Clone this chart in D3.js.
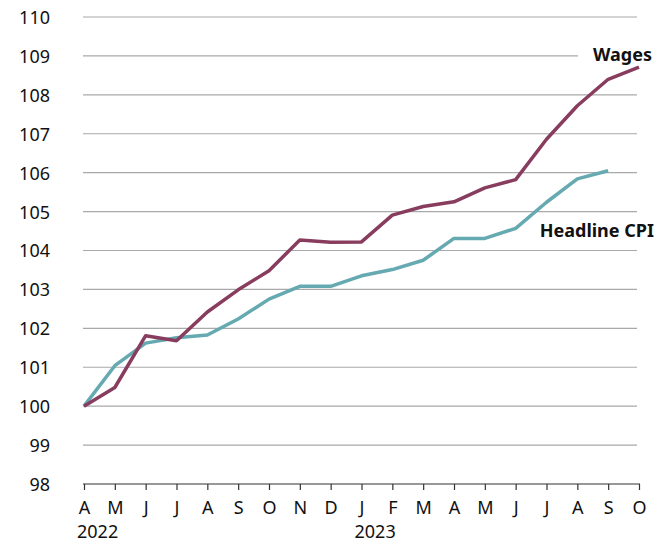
<!DOCTYPE html>
<html>
<head>
<meta charset="utf-8">
<script src="https://cdn.jsdelivr.net/npm/d3@7"></script>
<style>
  html, body { margin: 0; padding: 0; background: #fff; }
  svg text { font-family: "Noto Sans", "Open Sans", sans-serif; fill: #111; }
</style>
</head>
<body>
<svg id="chart" width="656" height="544"></svg>
<script>
// Monthly index, April 2022 = 100
const months = ["A","M","J","J","A","S","O","N","D","J","F","M","A","M","J","J","A","S","O"];
const years = [{ idx: 0, label: "2022" }, { idx: 9, label: "2023" }];
const wages = [100, 100.48, 101.81, 101.68, 102.42, 102.99, 103.48, 104.27, 104.21, 104.22, 104.91, 105.13, 105.25, 105.61, 105.82, 106.86, 107.72, 108.40, 108.71];
const cpi = [100, 101.04, 101.62, 101.76, 101.83, 102.24, 102.75, 103.08, 103.08, 103.35, 103.51, 103.75, 104.31, 104.31, 104.57, 105.24, 105.84, 106.05];
const yTicks = d3.range(98, 111);

const svg = d3.select("#chart");
const x = d3.scaleLinear().domain([0, months.length - 1]).range([84, 639]);
const y = d3.scaleLinear().domain([98, 110]).range([484, 17]);

// horizontal gridlines
svg.append("g")
  .selectAll("line")
  .data(yTicks.filter(d => d > 98))
  .join("line")
  .attr("x1", 83).attr("x2", 637)
  .attr("y1", d => y(d)).attr("y2", d => y(d))
  .attr("stroke", "#a9a9a9").attr("stroke-width", 1.2);

// y-axis labels
const yAxis = d3.axisLeft(y).tickValues(yTicks).tickSize(0).tickPadding(0).tickFormat(d3.format("d"));
const gy = svg.append("g").attr("transform", "translate(50,0)").call(yAxis);
gy.select(".domain").remove();
gy.selectAll("text").attr("dy", "0.36em")
  .style("font-size", "18px").style("fill", "#111")
  .style("font-family", "'Noto Sans', sans-serif");

// x-axis baseline, ticks and month labels
const xAxis = d3.axisBottom(x).tickValues(d3.range(months.length)).tickSize(6).tickSizeOuter(0)
  .tickPadding(11).tickFormat(i => months[i]);
const gx = svg.append("g").attr("transform", `translate(0,${y(98)})`).call(xAxis);
gx.select(".domain").attr("stroke", "#333").attr("stroke-width", 1.2).attr("d", `M${x(0) - 1},0H${x(months.length - 1) + 1}`);
gx.selectAll(".tick line").attr("stroke", "#333").attr("stroke-width", 1.2);
gx.selectAll(".tick text")
  .style("font-size", "18px").style("fill", "#111")
  .style("font-family", "'Noto Sans', sans-serif");

// year labels under the first month of each year
svg.append("g").selectAll("text")
  .data(years)
  .join("text")
  .attr("x", d => x(d.idx) - 7)
  .attr("y", 538)
  .style("font-size", "18px")
  .text(d => d.label);

// series labels, with a white backing so the gridline stops short
// (drawn before the lines so the lines stay on top)
const labelLayer = svg.append("g");
const labels = [
  { text: "Wages", x: 652, y: 61 },
  { text: "Headline CPI", x: 654, y: 237 }
];
labels.forEach(l => {
  const t = labelLayer.append("text")
    .attr("x", l.x).attr("y", l.y)
    .attr("text-anchor", "end")
    .style("font-size", "18px").attr("font-weight", "bold")
    .text(l.text);
  const b = t.node().getBBox();
  labelLayer.insert("rect", () => t.node())
    .attr("x", b.x - 15).attr("y", b.y + 3)
    .attr("width", b.width + 15).attr("height", b.height - 6)
    .attr("fill", "#fff");
});

// lines
const line = d3.line().x((d, i) => x(i)).y(d => y(d));
svg.append("path").datum(cpi).attr("d", line)
  .attr("fill", "none").attr("stroke", "#65a9b1").attr("stroke-width", 3.5)
  .attr("stroke-linejoin", "round");
svg.append("path").datum(wages).attr("d", line)
  .attr("fill", "none").attr("stroke", "#883d5f").attr("stroke-width", 3.5)
  .attr("stroke-linejoin", "round");
</script>
</body>
</html>
